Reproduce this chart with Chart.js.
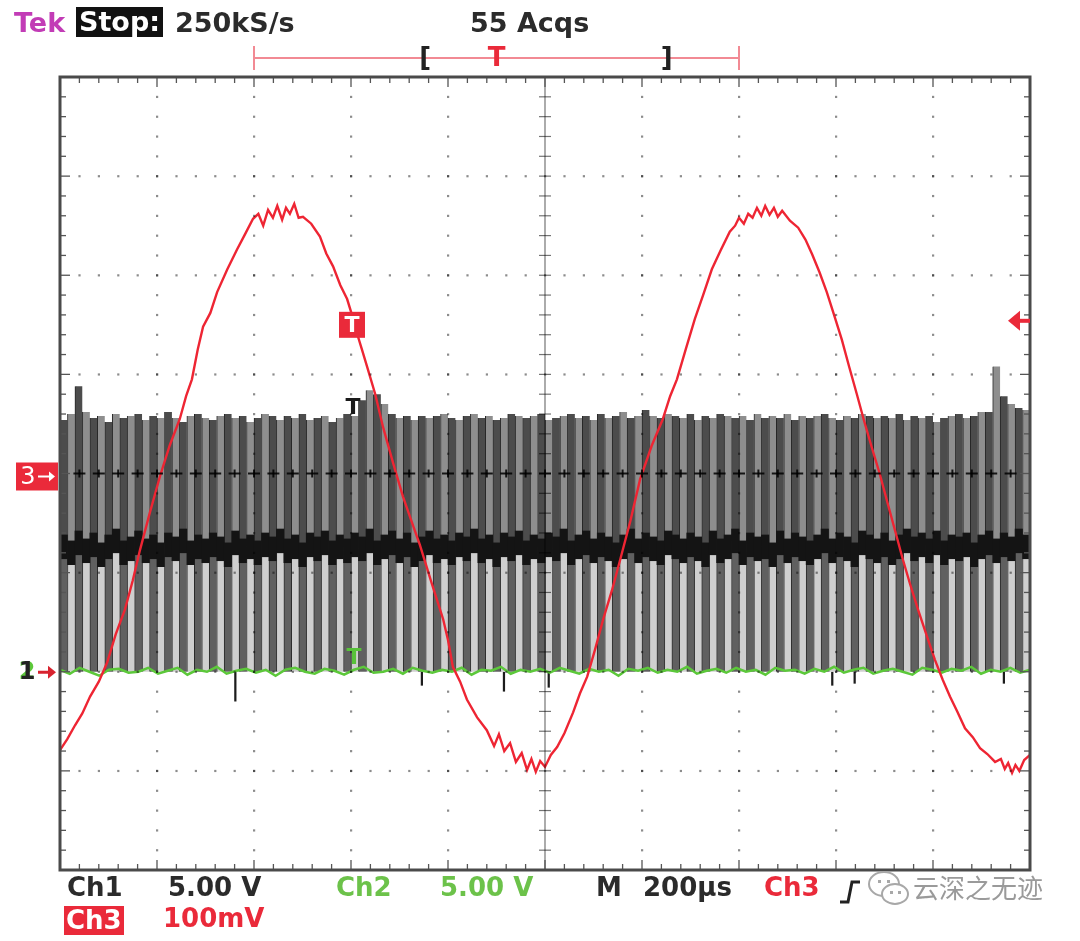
<!DOCTYPE html>
<html>
<head>
<meta charset="utf-8">
<script src="https://cdn.jsdelivr.net/npm/chart.js@4.4.0/dist/chart.umd.min.js"></script>
<style>
body { margin: 0; background: #fff; }
#wrap { position: relative; width: 1080px; height: 941px; }
#scope { position: absolute; left: 0; top: 0; }
.t { position: absolute; font-family: "DejaVu Sans", sans-serif; font-weight: bold; font-size: 26px; line-height: 1; white-space: nowrap; color: #2b2b2b; }
</style>
</head>
<body>
<div id="wrap">
<canvas id="scope" width="1080" height="941"></canvas>
<div class="t" style="left:14px;top:9px;font-size:27px;color:#c23cb6">Tek</div>
<div class="t" style="left:76px;top:7px;font-size:27px;background:#111;color:#fff;padding:1px 3px 2px 3px">Stop:</div>
<div class="t" style="left:175px;top:9px;font-size:27px">250kS/s</div>
<div class="t" style="left:470px;top:9px;font-size:27px">55 Acqs</div>

<div class="t" style="left:67px;top:874px">Ch1</div>
<div class="t" style="left:168px;top:874px">5.00 V</div>
<div class="t" style="left:336px;top:874px;color:#6cc24a">Ch2</div>
<div class="t" style="left:440px;top:874px;color:#6cc24a">5.00 V</div>
<div class="t" style="left:596px;top:874px">M</div>
<div class="t" style="left:643px;top:874px">200µs</div>
<div class="t" style="left:764px;top:874px;color:#ea2a3a">Ch3</div>
<div class="t" style="left:64px;top:906px;background:#ea2a3a;color:#fff;padding:1px 2px 2px 2px">Ch3</div>
<div class="t" style="left:163px;top:905px;color:#ea2a3a">100mV</div>
<div class="t" style="left:913px;top:874px;font-family:'Noto Sans CJK SC';font-weight:normal;font-size:26px;color:#9a9a9a">云深之无迹</div>
</div>

<script>
// Ch3 (red, mV), time in µs
var ch3Time = [0, 15, 31, 46, 62, 80, 97, 115, 134, 150, 165, 185, 206, 226, 247, 260, 272, 284, 295, 310,
  324, 345, 365, 380, 398, 409, 419, 429, 439, 448, 458, 466, 474, 483, 492, 501, 518, 536, 549, 563,
  578, 592, 602, 612, 622, 633, 650, 666, 686, 707, 724, 742, 766, 790, 800, 810, 825, 839, 860, 880,
  895, 905, 916, 928, 940, 952, 963, 972, 981, 990, 1000, 1012, 1025, 1040, 1058, 1072, 1087, 1103, 1120, 1138,
  1155, 1176, 1196, 1220, 1243, 1258, 1272, 1290, 1309, 1326, 1344, 1362, 1381, 1392, 1400, 1410, 1419, 1428, 1437, 1446,
  1454, 1463, 1472, 1480, 1489, 1505, 1522, 1537, 1551, 1566, 1581, 1596, 1612, 1627, 1643, 1658, 1674, 1690, 1707, 1722,
  1738, 1753, 1769, 1786, 1804, 1820, 1835, 1850, 1866, 1882, 1897, 1912, 1928, 1940, 1948, 1955, 1963, 1970, 1978, 1988, 2000];
var ch3mV = [-279, -268, -254, -242, -225, -210, -191, -162, -137, -108, -77, -40, -3, 28, 55, 78, 95, 125, 148, 162,
  183, 206, 226, 240, 257, 262, 250, 266, 258, 270, 256, 268, 262, 272, 258, 259, 252, 239, 222, 209,
  190, 176, 160, 142, 126, 108, 80, 47, 12, -23, -47, -72, -110, -147, -168, -195, -210, -228, -246, -259,
  -275, -263, -280, -272, -291, -282, -299, -288, -301, -290, -296, -284, -276, -262, -241, -222, -205, -178, -147, -118,
  -87, -48, -6, 28, 55, 78, 95, 125, 156, 180, 206, 225, 244, 250, 258, 252, 262, 258, 268, 260,
  270, 261, 268, 259, 265, 255, 248, 236, 221, 203, 183, 160, 135, 108, 80, 53, 26, 0, -31, -58,
  -87, -112, -137, -162, -188, -208, -225, -240, -257, -266, -277, -283, -291, -288, -298, -292, -302, -294, -300, -289, -284];

// Ch1 (switching node, V): pulse tops, dark band level and low dips, one per pulse
var ch1High = [12.7, 13.0, 14.4, 13.1, 12.8, 12.9, 12.6, 13.0, 12.8, 12.9,
  13.0, 12.7, 12.9, 12.8, 13.1, 12.8, 12.6, 12.9, 13.0, 12.8,
  12.7, 12.9, 13.0, 12.8, 12.9, 12.6, 12.8, 13.0, 12.9, 12.7,
  12.9, 12.8, 13.0, 12.7, 12.8, 12.9, 12.6, 12.8, 13.0, 12.9,
  13.7, 14.2, 14.0, 13.5, 13.0, 12.8, 12.9, 12.7, 12.9, 12.8,
  12.9, 13.0, 12.8, 12.7, 12.9, 13.0, 12.8, 12.9, 12.7, 12.8,
  13.0, 12.9, 12.8, 12.9, 13.0, 12.7, 12.8, 12.9, 13.0, 12.8,
  12.9, 12.7, 13.0, 12.8, 12.9, 13.1, 12.8, 12.9, 13.2, 12.9,
  12.8, 13.0, 12.9, 12.8, 13.0, 12.7, 12.9, 12.8, 13.0, 12.9,
  12.8, 12.9, 12.7, 13.0, 12.8, 12.9, 12.8, 13.0, 12.7, 12.9,
  12.8, 12.9, 13.0, 12.8, 12.7, 12.9, 12.8, 13.0, 12.9, 12.8,
  12.9, 12.8, 13.0, 12.7, 12.9, 12.8, 12.9, 12.6, 12.8, 12.9,
  13.0, 12.8, 12.9, 13.1, 13.1, 15.4, 13.9, 13.5, 13.3, 13.2];
var ch1Band = [6.3, 6.0, 6.5, 6.1, 6.4, 5.9, 6.3, 6.6, 6.0, 6.2,
  6.5, 6.1, 6.3, 5.9, 6.4, 6.2, 6.6, 6.0, 6.3, 6.1,
  6.4, 6.2, 5.9, 6.5, 6.1, 6.3, 6.0, 6.4, 6.2, 6.6,
  6.1, 6.3, 5.9, 6.4, 6.2, 6.5, 6.0, 6.3, 6.1, 6.4,
  6.2, 6.6, 6.0, 6.3, 6.5, 6.1, 6.4, 5.9, 6.2, 6.5,
  6.1, 6.3, 6.0, 6.4, 6.2, 6.6, 6.1, 6.3, 5.9, 6.4,
  6.2, 6.5, 6.0, 6.3, 6.1, 6.4, 6.2, 6.6, 6.0, 6.3,
  6.5, 6.1, 6.4, 6.2, 5.9, 6.3, 6.6, 6.1, 6.4, 6.2,
  6.0, 6.5, 6.3, 6.1, 6.4, 6.2, 5.9, 6.5, 6.1, 6.3,
  6.6, 6.0, 6.4, 6.2, 6.3, 5.9, 6.5, 6.1, 6.4, 6.2,
  6.0, 6.3, 6.6, 6.1, 6.4, 6.2, 5.9, 6.5, 6.3, 6.1,
  6.4, 6.0, 6.3, 6.6, 6.2, 6.4, 6.1, 6.5, 6.0, 6.3,
  6.2, 6.4, 5.9, 6.3, 6.5, 6.1, 6.4, 6.2, 6.6, 6.3];
var ch1Low = [0, 0, 0, 0, 0, 0, 0, 0, 0, 0,
  0, 0, 0, 0, 0, 0, 0, 0, 0, 0,
  0, 0, 0, -1.5, 0, 0, 0, 0, 0, 0,
  0, 0, 0, 0, 0, 0, 0, 0, 0, 0,
  0, 0, 0, 0, 0, 0, 0, 0, -0.7, 0,
  0, 0, 0, 0, 0, 0, 0, 0, 0, -1.0,
  0, 0, 0, 0, 0, -0.8, 0, 0, 0, 0,
  0, 0, 0, 0, 0, 0, 0, 0, 0, 0,
  0, 0, 0, 0, 0, 0, 0, 0, 0, 0,
  0, 0, 0, 0, 0, 0, 0, 0, 0, 0,
  0, 0, 0, -0.7, 0, 0, -0.6, 0, 0, 0,
  0, 0, 0, 0, 0, 0, 0, 0, 0, 0,
  0, 0, 0, 0, 0, 0, -0.6, 0, 0, 0];

// Ch2 (green, V): flat with noise
var ch2V = [0.1, -0.1, 0.2, 0.0, -0.2, 0.1, 0.15, -0.05, 0.0, 0.2,
  -0.1, 0.05, 0.2, -0.15, 0.1, 0.0, 0.25, -0.1, 0.05, 0.15,
  -0.05, 0.1, -0.2, 0.1, 0.2, 0.0, -0.1, 0.15, 0.05, -0.15,
  0.1, 0.25, -0.05, 0.0, 0.15, -0.1, 0.2, 0.05, -0.05, 0.1,
  0.0, 0.2, -0.15, 0.1, 0.05, 0.25, -0.1, 0.1, 0.0, 0.15,
  -0.05, 0.2, 0.05, -0.1, 0.15, 0.0, 0.1, -0.2, 0.15, 0.05,
  0.2, -0.05, 0.1, 0.0, 0.25, -0.1, 0.05, 0.15, -0.05, 0.2,
  0.0, 0.1, -0.15, 0.2, 0.05, 0.1, -0.1, 0.15, 0.0, 0.25,
  -0.05, 0.1, 0.2, -0.1, 0.05, 0.15, 0.0, -0.15, 0.2, 0.1,
  -0.05, 0.15, 0.05, 0.25, -0.1, 0.1, 0.0, 0.2, -0.05, 0.1];

var trigTime = 600;   // µs
var trigLevel = 150;  // mV on ch3

var ch3Points = ch3Time.map(function(t, i) { return {x: t, y: ch3mV[i]}; });
var pulseLabels = ch1High.map(function(v, i) { return i; });
var ch2Labels = ch2V.map(function(v, i) { return i; });

function tri(ctx, x1, y1, x2, y2, x3, y3) {
  ctx.beginPath(); ctx.moveTo(x1, y1); ctx.lineTo(x2, y2); ctx.lineTo(x3, y3); ctx.closePath(); ctx.fill();
}

// graticule drawn on top of the traces, semi-transparent like the scope overlay
var graticule = {
  id: 'graticule',
  afterDatasetsDraw: function(chart) {
    var ctx = chart.ctx, a = chart.chartArea, x = chart.scales.x, y = chart.scales.y3;
    ctx.save();
    ctx.fillStyle = 'rgba(0,0,0,0.45)';
    for (var i = 1; i < 10; i++) {
      if (i === 5) continue;
      var px = x.getPixelForValue(i * 200);
      for (var k = 1; k < 40; k++) {
        ctx.fillRect(px - 1, y.getPixelForValue(-400 + k * 20) - 1, 2.2, 2.2);
      }
    }
    for (var j = 1; j < 8; j++) {
      if (j === 4) continue;
      var py = y.getPixelForValue(-400 + j * 100);
      for (var k2 = 1; k2 < 50; k2++) {
        ctx.fillRect(x.getPixelForValue(k2 * 40) - 1, py - 1, 2.2, 2.2);
      }
    }
    // centre vertical
    var cx = x.getPixelForValue(1000), cy = y.getPixelForValue(0);
    ctx.strokeStyle = 'rgba(0,0,0,0.55)';
    ctx.lineWidth = 1.2;
    ctx.beginPath(); ctx.moveTo(cx, a.top); ctx.lineTo(cx, a.bottom); ctx.stroke();
    for (var m = 1; m < 40; m++) {
      var ty = y.getPixelForValue(-400 + m * 20);
      ctx.beginPath(); ctx.moveTo(cx - 6, ty); ctx.lineTo(cx + 6, ty); ctx.stroke();
    }
    // centre horizontal
    ctx.strokeStyle = 'rgba(0,0,0,0.85)';
    ctx.lineWidth = 2;
    for (var n = 1; n < 50; n++) {
      var tx = x.getPixelForValue(n * 40);
      ctx.beginPath(); ctx.moveTo(tx - 6, cy); ctx.lineTo(tx + 6, cy); ctx.stroke();
      ctx.beginPath(); ctx.moveTo(tx, cy - 4); ctx.lineTo(tx, cy + 4); ctx.stroke();
    }
    // border ticks
    ctx.strokeStyle = '#555';
    ctx.lineWidth = 1.3;
    for (var b = 1; b < 50; b++) {
      var bx = x.getPixelForValue(b * 40), len = (b % 5 === 0) ? 10 : 6;
      ctx.beginPath(); ctx.moveTo(bx, a.top); ctx.lineTo(bx, a.top + len); ctx.stroke();
      ctx.beginPath(); ctx.moveTo(bx, a.bottom); ctx.lineTo(bx, a.bottom - len); ctx.stroke();
    }
    for (var c = 1; c < 40; c++) {
      var by = y.getPixelForValue(-400 + c * 20), len2 = (c % 5 === 0) ? 10 : 6;
      ctx.beginPath(); ctx.moveTo(a.left, by); ctx.lineTo(a.left + len2, by); ctx.stroke();
      ctx.beginPath(); ctx.moveTo(a.right, by); ctx.lineTo(a.right - len2, by); ctx.stroke();
    }
    ctx.strokeStyle = '#4a4a4a';
    ctx.lineWidth = 3;
    ctx.strokeRect(a.left, a.top, a.right - a.left, a.bottom - a.top);
    ctx.restore();
  },
  afterDraw: function(chart) {
    var ctx = chart.ctx, a = chart.chartArea, x = chart.scales.x;
    var y1 = chart.scales.y1, y3 = chart.scales.y3;
    ctx.save();
    // record / trigger bar on top
    var bl = x.getPixelForValue(400), br = x.getPixelForValue(1400), yb = 58;
    ctx.strokeStyle = '#f28a94'; ctx.lineWidth = 2;
    ctx.beginPath(); ctx.moveTo(bl, yb); ctx.lineTo(br, yb);
    ctx.moveTo(bl, yb - 12); ctx.lineTo(bl, yb + 12);
    ctx.moveTo(br, yb - 12); ctx.lineTo(br, yb + 12); ctx.stroke();
    ctx.fillStyle = '#222';
    ctx.font = 'bold 26px "DejaVu Sans"';
    ctx.textAlign = 'center'; ctx.textBaseline = 'middle';
    ctx.fillText('[', x.getPixelForValue(753), yb + 1);
    ctx.fillText(']', x.getPixelForValue(1251), yb + 1);
    ctx.fillStyle = '#ea2a3a';
    ctx.fillText('T', x.getPixelForValue(900), yb + 1);

    // trigger markers on the traces
    var tx = x.getPixelForValue(trigTime);
    var ty = y3.getPixelForValue(trigLevel);
    ctx.fillStyle = '#ea2a3a';
    ctx.fillRect(tx - 12, ty - 13, 26, 26);
    ctx.fillStyle = '#fff';
    ctx.font = 'bold 22px "DejaVu Sans"';
    ctx.fillText('T', tx + 1, ty + 1);
    ctx.fillStyle = '#1a1a1a';
    ctx.fillText('T', tx + 2, y1.getPixelForValue(13.3));
    ctx.fillStyle = '#58c23a';
    ctx.fillText('T', tx + 3, y1.getPixelForValue(0.7));

    // ch3 trigger level arrow at right
    ctx.fillStyle = '#ea2a3a';
    tri(ctx, a.right - 22, ty - 4, a.right - 10, ty - 14, a.right - 10, ty + 6);
    ctx.fillRect(a.right - 12, ty - 6, 12, 4);

    // channel ground markers at left
    var g3 = y3.getPixelForValue(0) + 3;
    ctx.fillStyle = '#ea2a3a';
    ctx.fillRect(16, g3 - 14, 42, 28);
    ctx.fillStyle = '#fff';
    ctx.font = '24px "DejaVu Sans"';
    ctx.fillText('3', 28, g3 + 1);
    ctx.fillRect(38, g3 - 1, 12, 2);
    tri(ctx, 55, g3, 49, g3 - 5, 49, g3 + 5);

    var g1 = y1.getPixelForValue(0);
    ctx.font = 'bold 24px "DejaVu Sans"';
    ctx.fillStyle = '#5cc83a';
    ctx.fillText('2', 27, g1 + 1);
    ctx.fillStyle = '#222';
    ctx.fillText('1', 27, g1 + 1);
    ctx.fillStyle = '#d8232f';
    ctx.fillRect(38, g1 - 1, 12, 3);
    tri(ctx, 56, g1 + 0.5, 48, g1 - 6, 48, g1 + 7);

    // ch3 slope symbol
    ctx.strokeStyle = '#222'; ctx.lineWidth = 3;
    ctx.beginPath(); ctx.moveTo(840, 902); ctx.lineTo(848, 902); ctx.lineTo(852, 882); ctx.lineTo(860, 882); ctx.stroke();

    // watermark icon
    ctx.strokeStyle = '#a8a8a8'; ctx.lineWidth = 2; ctx.fillStyle = '#fff';
    ctx.beginPath(); ctx.ellipse(884, 884, 15, 12, 0, 0, Math.PI * 2); ctx.fill(); ctx.stroke();
    ctx.beginPath(); ctx.ellipse(895, 894, 13, 10, 0, 0, Math.PI * 2); ctx.fill(); ctx.stroke();
    ctx.fillStyle = '#a8a8a8';
    ctx.fillRect(878, 880, 3, 3); ctx.fillRect(887, 880, 3, 3);
    ctx.fillRect(890, 891, 3, 3); ctx.fillRect(898, 891, 3, 3);
    ctx.restore();
  }
};

var ctx = document.getElementById('scope').getContext('2d');
var chart = new Chart(ctx, {
  type: 'line',
  data: {
    datasets: [
      {
        label: 'Ch3',
        data: ch3Points,
        xAxisID: 'x', yAxisID: 'y3',
        borderColor: '#ee2533', borderWidth: 2.4,
        pointRadius: 0, tension: 0
      },
      {
        label: 'Ch2',
        data: ch2V,
        xAxisID: 'xg', yAxisID: 'y1',
        borderColor: '#5cc83a', borderWidth: 2.5,
        pointRadius: 0, tension: 0
      },
      {
        type: 'bar', label: 'Ch1 band',
        data: ch1Band.map(function(v) { return [v - 0.6, v + 0.6]; }),
        xAxisID: 'xb', yAxisID: 'y1', grouped: false,
        backgroundColor: '#141414',
        barPercentage: 1, categoryPercentage: 1, borderWidth: 0
      },
      {
        type: 'bar', label: 'Ch1 high',
        data: ch1High.map(function(v, i) { return [ch1Band[i], v]; }),
        xAxisID: 'xb', yAxisID: 'y1', grouped: false,
        backgroundColor: ch1High.map(function(v, i) { return i % 2 ? '#8e8e8e' : '#4c4c4c'; }),
        borderColor: '#262626', borderSkipped: false,
        borderWidth: {left: 1, right: 0, top: 0, bottom: 0},
        barPercentage: 1, categoryPercentage: 1
      },
      {
        type: 'bar', label: 'Ch1 low',
        data: ch1Band.map(function(v) { return [0, v]; }),
        xAxisID: 'xb', yAxisID: 'y1', grouped: false,
        backgroundColor: ch1Band.map(function(v, i) { return i % 2 ? '#cfcfcf' : '#606060'; }),
        borderColor: '#2a2a2a', borderSkipped: false,
        borderWidth: {left: 1, right: 0, top: 0, bottom: 0},
        barPercentage: 1, categoryPercentage: 1
      },
      {
        type: 'bar', label: 'Ch1 dips',
        data: ch1Low.map(function(v) { return [v, 0]; }),
        xAxisID: 'xb', yAxisID: 'y1', grouped: false,
        backgroundColor: '#1c1c1c',
        barPercentage: 0.3, categoryPercentage: 1, borderWidth: 0
      }
    ]
  },
  options: {
    responsive: false,
    animation: false,
    layout: { padding: { left: 60, top: 77, right: 50, bottom: 71 } },
    plugins: { legend: { display: false }, tooltip: { enabled: false } },
    scales: {
      x: { type: 'linear', min: 0, max: 2000, display: false },
      xb: { type: 'category', labels: pulseLabels, offset: true, display: false },
      xg: { type: 'category', labels: ch2Labels, offset: false, display: false },
      y1: { type: 'linear', min: -10, max: 30, display: false },
      y3: { type: 'linear', min: -400, max: 400, display: false }
    }
  },
  plugins: [graticule]
});
</script>
</body>
</html>
